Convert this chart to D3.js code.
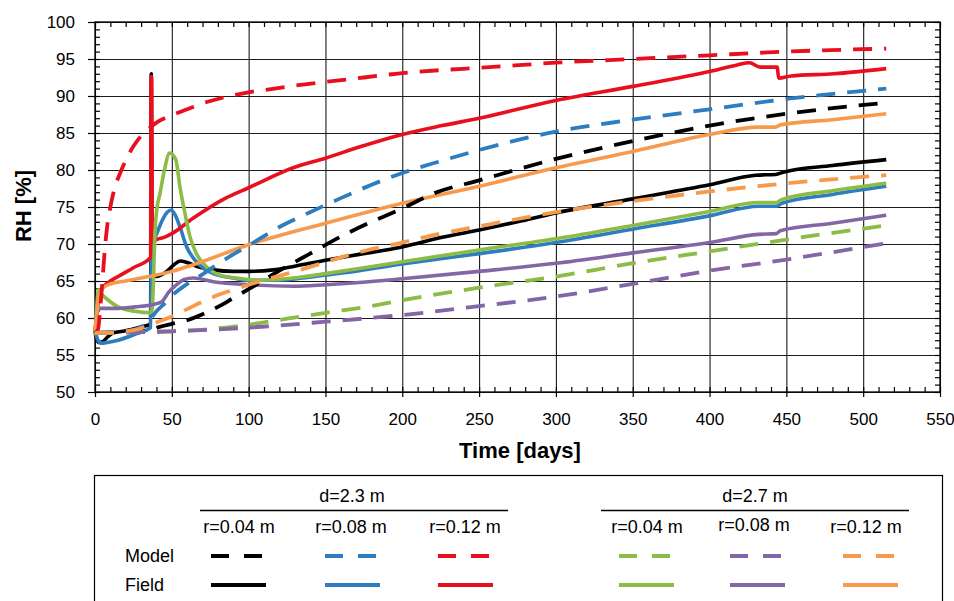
<!DOCTYPE html>
<html>
<head>
<meta charset="utf-8">
<script src="https://cdn.jsdelivr.net/npm/d3@7"></script>
<style>
	body { margin: 0; background: #fff; }
	svg { font-family: "Liberation Sans", Arial, sans-serif; }
	.axis path { display: none; }
</style>
</head>
<body>
<script>
// ticks
var xTicks = [0, 50, 100, 150, 200, 250, 300, 350, 400, 450, 500, 550];
var yTicks = [50, 55, 60, 65, 70, 75, 80, 85, 90, 95, 100];

// legend labels
var groups = ['d=2.3 m', 'd=2.7 m'];
var radii = ['r=0.04 m', 'r=0.08 m', 'r=0.12 m'];
var rows = ['Model', 'Field'];

// field measurements [day, RH %]
var fieldBlack = [[0,58.2],[1,57.2],[2.5,56.7],[5,56.8],[8,57.4],[12,58],[18,58.2],[23,58.4],[30,58.8],[36.2,59.2],[36.6,93],[37.2,66.5],[40,65.6],[46.7,66.3],[52,67.3],[55.5,67.7],[60,67.5],[66,67],[77,66.5],[90,66.3],[100,66.3],[116,66.5],[130,67],[150,67.8],[172,68.6],[200,69.6],[226,70.9],[250,71.9],[275,73],[300,74.2],[350,76.1],[400,78],[430,79.3],[443,79.4],[448,79.7],[480,80.6],[515,81.4]];
var fieldBlue = [[0,58.5],[1.5,57.2],[4,56.6],[8,56.7],[15,57],[26,57.8],[36.2,58.7],[36.7,69.5],[40,71.3],[44,73.3],[47,74.3],[49.5,74.6],[52,74],[55.3,72.3],[59.7,69.6],[66,67.6],[77,66],[90,65.4],[100,65.1],[118,65.1],[135,65.4],[150,65.8],[172,66.4],[200,67.3],[225,68],[250,68.7],[300,70.2],[350,72],[400,73.8],[432,75.1],[443.5,75.1],[447,75.5],[480,76.7],[515,77.8]];
var fieldRed = [[0,58],[1.5,61],[4,63.8],[8,64.7],[15,65.6],[25,66.8],[36.2,68.2],[36.5,92.6],[36.9,92.6],[37.3,70.2],[40,70.6],[45,70.9],[50,71.4],[64,73.5],[85,76.2],[100,77.6],[129,80.3],[150,81.6],[172,83.1],[200,84.8],[226,86],[250,87],[300,89.4],[350,91.3],[400,93.3],[418,94.2],[426,94.5],[433,93.9],[444,93.9],[445,92.4],[453,92.7],[481,93],[515,93.7]];
var fieldGreen = [[0,57.7],[1,61],[2.2,63.8],[4,63.3],[8.7,62.4],[15,61.5],[26,60.9],[36.2,60.7],[37.2,61.2],[38,64.7],[39,71.5],[40.2,74.6],[42.3,76.8],[45,79.8],[48.6,82.3],[52.6,81.4],[55.3,77.7],[58.6,74.1],[61.8,71],[66,68.7],[72.7,66.9],[81.4,65.8],[92,65.4],[107,65.1],[129,65.4],[150,66],[172,66.7],[200,67.6],[250,69.2],[300,70.7],[350,72.5],[400,74.4],[432,75.6],[443.5,75.6],[447,76],[480,77.2],[515,78.2]];
var fieldPurple = [[0,58],[1,60],[2.5,61.3],[15,61.3],[26,61.5],[37,61.8],[43.4,62.2],[48,63.5],[52,64.3],[58,65.2],[64,65.4],[77,64.9],[100,64.5],[129,64.3],[150,64.5],[172,64.8],[200,65.3],[250,66.3],[300,67.4],[350,68.8],[400,70.2],[432,71.3],[443.5,71.4],[446,71.8],[480,72.8],[515,73.9]];
var fieldOrange = [[0,58.2],[1,60],[2.5,63],[5,64],[10,64.6],[20,65],[35,65.6],[50,66.3],[64,67.2],[100,69.9],[150,72.8],[200,75.5],[250,77.8],[300,80.3],[350,82.5],[400,84.8],[432,85.8],[443,85.8],[446,86.1],[480,86.8],[515,87.6]];

// model results [day, RH %]
var modelBlack = [[0,58],[20,58.1],[35,58.3],[42,58.8],[50,59.2],[60,59.7],[70,60.5],[80,61.5],[90,62.7],[100,63.9],[120,66.4],[140,68.7],[160,71],[180,73],[200,74.8],[220,76.8],[250,78.6],[300,81.5],[350,83.9],[400,86],[450,87.6],[515,89.1]];
var modelBlue = [[0,58],[20,58.2],[30,58.8],[35,59.6],[40,60.9],[45,61.9],[50,63],[60,64.6],[70,65.9],[80,67.3],[90,68.6],[100,69.8],[120,72.3],[140,74.3],[160,76.2],[180,78],[200,79.6],[225,81.2],[250,82.7],[300,85.2],[350,86.8],[400,88.2],[450,89.6],[515,91]];
var modelRed = [[0,58],[2,58.5],[3.5,61.5],[5,65.5],[6.5,69.5],[8,72.5],[10,75],[13,77.7],[16,79.4],[20,81.3],[25,83.2],[30,84.6],[35,85.6],[40,86.4],[50,87.4],[60,88.2],[70,89],[80,89.6],[90,90.1],[100,90.5],[110,90.8],[130,91.4],[150,91.9],[175,92.5],[200,93.1],[225,93.5],[250,93.8],[300,94.5],[350,95],[400,95.5],[450,96],[515,96.4]];
var modelGreen = [[0,58],[30,58.1],[50,58.2],[80,58.6],[100,59.1],[125,59.9],[150,60.7],[185,61.8],[200,62.4],[250,64.1],[300,65.6],[350,67.4],[400,69],[450,70.6],[515,72.5]];
var modelPurple = [[0,58],[50,58.2],[100,58.7],[150,59.5],[200,60.4],[250,61.6],[300,62.9],[350,64.6],[400,66.4],[450,67.9],[515,70.1]];
var modelOrange = [[0,58],[10,58],[20,58.2],[30,58.6],[40,59.4],[50,60.2],[60,61.2],[70,62.2],[80,63.1],[90,63.8],[100,64.5],[120,65.7],[140,66.9],[160,68.2],[180,69.3],[200,70.2],[225,71.4],[250,72.4],[300,74.3],[350,75.8],[400,77.1],[450,78.2],[515,79.3]];

var colors = ['#000000', '#2e7dbf', '#e8101e', '#8cbc45', '#8466a6', '#f79a4b'];
var fieldSeries = [fieldBlack, fieldBlue, fieldRed, fieldGreen, fieldPurple, fieldOrange];
var modelSeries = [modelBlack, modelBlue, modelRed, modelGreen, modelPurple, modelOrange];

var W = 954, H = 601;
var pLeft = 95, pTop = 22, pRight = 940, pBottom = 392;

var x = d3.scaleLinear().domain([0, 550]).range([pLeft, pRight]);
var y = d3.scaleLinear().domain([50, 100]).range([pBottom, pTop]);

var svg = d3.select('body').append('svg')
	.attr('width', W)
	.attr('height', H);

// grid
svg.append('g')
	.attr('class', 'axis grid')
	.attr('transform', 'translate(0,' + pBottom + ')')
	.call(d3.axisBottom(x).tickValues(xTicks).tickSize(-(pBottom - pTop)).tickFormat(''));
svg.append('g')
	.attr('class', 'axis grid')
	.attr('transform', 'translate(' + pLeft + ',0)')
	.call(d3.axisLeft(y).tickValues(yTicks).tickSize(-(pRight - pLeft)).tickFormat(''));
svg.selectAll('.grid line')
	.attr('stroke', '#1a1a1a')
	.attr('stroke-width', 1.1);

// minor ticks, pointing inward on all four sides
var xMinor = d3.range(0, 551, 10);
var yMinor = d3.range(50, 101, 1);
svg.append('g').attr('class', 'axis minor')
	.attr('transform', 'translate(0,' + pBottom + ')')
	.call(d3.axisBottom(x).tickValues(xMinor).tickSize(-5).tickFormat(''));
svg.append('g').attr('class', 'axis minor')
	.attr('transform', 'translate(0,' + pTop + ')')
	.call(d3.axisTop(x).tickValues(xMinor).tickSize(-5).tickFormat(''));
svg.append('g').attr('class', 'axis minor')
	.attr('transform', 'translate(' + pLeft + ',0)')
	.call(d3.axisLeft(y).tickValues(yMinor).tickSize(-5).tickFormat(''));
svg.append('g').attr('class', 'axis minor')
	.attr('transform', 'translate(' + pRight + ',0)')
	.call(d3.axisRight(y).tickValues(yMinor).tickSize(-5).tickFormat(''));

// major ticks + labels
svg.append('g').attr('class', 'axis major')
	.attr('transform', 'translate(0,' + pBottom + ')')
	.call(d3.axisBottom(x).tickValues(xTicks).tickSize(5).tickPadding(16));
svg.append('g').attr('class', 'axis major')
	.attr('transform', 'translate(' + pLeft + ',0)')
	.call(d3.axisLeft(y).tickValues(yTicks).tickSize(7).tickPadding(13));
svg.selectAll('.axis text')
	.attr('fill', '#000')
	.style('font-size', '17px');
svg.selectAll('.minor line, .major line')
	.attr('stroke', '#000')
	.attr('stroke-width', 1.2);

// frame
svg.append('rect')
	.attr('x', pLeft).attr('y', pTop)
	.attr('width', pRight - pLeft).attr('height', pBottom - pTop)
	.attr('fill', 'none')
	.attr('stroke', '#000')
	.attr('stroke-width', 1.3);

// axis titles
svg.append('text')
	.attr('x', 520).attr('y', 458)
	.attr('text-anchor', 'middle')
	.style('font-size', '22px')
	.style('font-weight', 'bold')
	.text('Time [days]');
svg.append('text')
	.attr('transform', 'translate(31,206) rotate(-90)')
	.attr('text-anchor', 'middle')
	.style('font-size', '22px')
	.style('font-weight', 'bold')
	.text('RH [%]');

// series
var line = d3.line()
	.x(function(d){ return x(d[0]); })
	.y(function(d){ return y(d[1]); })
	.curve(d3.curveMonotoneX);

var plot = svg.append('g').attr('class', 'series');
fieldSeries.forEach(function(s, i){
	plot.append('path')
		.attr('d', line(s))
		.attr('fill', 'none')
		.attr('stroke', colors[i])
		.attr('stroke-width', 3.6)
		.attr('stroke-linejoin', 'round');
});
modelSeries.forEach(function(s, i){
	plot.append('path')
		.attr('d', line(s))
		.attr('fill', 'none')
		.attr('stroke', colors[i])
		.attr('stroke-width', 3.8)
		.attr('stroke-dasharray', '19,12');
});

// legend
var lg = svg.append('g').attr('class', 'legend');
lg.append('rect')
	.attr('x', 94.5).attr('y', 475.5)
	.attr('width', 848).attr('height', 200)
	.attr('fill', 'none')
	.attr('stroke', '#000')
	.attr('stroke-width', 1.2);

var groupCenters = [352, 755];
var groupLines = [[200, 508], [601, 909]];
var colCenters = [239, 351, 465, 647, 754, 866];
var sampleX = [211, 325, 438, 619, 730, 843];

groups.forEach(function(g, i){
	lg.append('text')
		.attr('x', groupCenters[i]).attr('y', 502)
		.attr('text-anchor', 'middle')
		.style('font-size', '18px')
		.text(g);
	lg.append('line')
		.attr('x1', groupLines[i][0]).attr('x2', groupLines[i][1])
		.attr('y1', 510.5).attr('y2', 510.5)
		.attr('stroke', '#000')
		.attr('stroke-width', 1.3);
});
colCenters.forEach(function(cx, i){
	lg.append('text')
		.attr('x', cx).attr('y', i === 4 ? 531 : 533)
		.attr('text-anchor', 'middle')
		.style('font-size', '18px')
		.text(radii[i % 3]);
});
rows.forEach(function(r, i){
	lg.append('text')
		.attr('x', 125).attr('y', i === 0 ? 562 : 590.5)
		.style('font-size', '18px')
		.text(r);
});
sampleX.forEach(function(sx, i){
	lg.append('line')
		.attr('x1', sx).attr('x2', sx + 51)
		.attr('y1', 556).attr('y2', 556)
		.attr('stroke', colors[i])
		.attr('stroke-width', 4)
		.attr('stroke-dasharray', '18,15');
	lg.append('line')
		.attr('x1', sx).attr('x2', sx + 55)
		.attr('y1', 585).attr('y2', 585)
		.attr('stroke', colors[i])
		.attr('stroke-width', 4);
});
</script>
</body>
</html>
